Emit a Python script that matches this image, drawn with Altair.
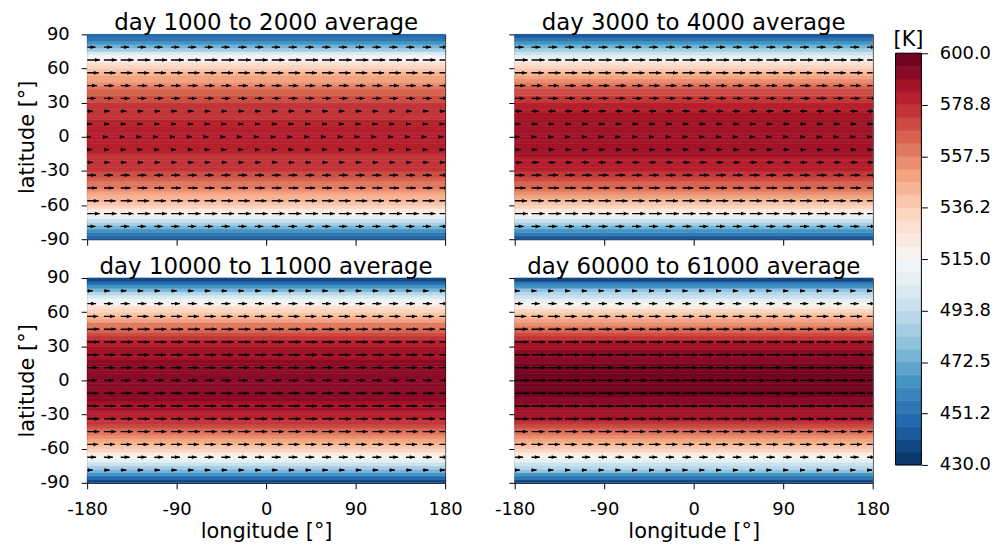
import numpy as np
import pandas as pd
import altair as alt

# ---------------------------------------------------------------- data
PANEL_TITLES = ["day 1000 to 2000 average", "day 3000 to 4000 average",
                "day 10000 to 11000 average", "day 60000 to 61000 average"]

# 3-degree latitude cells, edges from south to north
LAT_EDGES = list(range(-90, 91, 3))

# zonal temperature [K] per latitude cell, south -> north
T_DAY_1000 = [446, 455, 465, 476, 487, 498, 508, 517, 525, 531,
              537, 542, 546.5, 550.5, 554.5, 558.5, 562.5, 566, 569.5, 572,
              573.8, 575, 576, 577, 578, 578.9, 579.5, 580.2, 580.7, 581.0,
              581.2, 580.8, 580.3, 579.6, 578.9, 578, 577, 576, 575, 574,
              572.5, 570, 566.5, 563, 559, 555, 551, 547, 542, 537,
              532, 526, 518, 510, 500, 488, 476, 465, 455, 446]
T_DAY_3000 = [444, 453, 464, 476, 487, 498, 508, 517, 525, 532,
              538, 543.5, 549, 554, 558.5, 563, 567, 570.5, 573.8, 576.5,
              578.8, 580.8, 582.5, 583.9, 584.8, 585.6, 586.3, 586.9, 587.2, 587.4,
              587.5, 587.3, 587, 586.5, 585.8, 585, 584.2, 583, 581.5, 579.5,
              577.5, 575, 572, 568.5, 564.5, 560, 555.5, 550, 544.5, 539,
              533, 526, 518, 509, 499, 488, 477, 465, 454, 445]
T_DAY_10000 = [439, 450, 463, 476, 488, 499, 509, 518, 525.5, 532.5,
               539, 545, 551, 556.5, 561.5, 566.5, 571, 575, 578.5, 581.5,
               583.8, 585.6, 587.2, 588.6, 589.7, 590.5, 591.2, 591.8, 592.2, 592.4,
               592.5, 592.3, 592, 591.5, 590.8, 590, 589, 587.5, 586, 584.5,
               582.5, 579.5, 576, 572, 567.5, 562.5, 557.5, 552, 546, 540,
               533.5, 526.5, 519, 510, 500, 489, 477, 464, 451, 440]
T_DAY_60000 = [439.5, 451.5, 465.5, 478.5, 488.5, 497.5, 506.5, 515.5, 523.5, 531.2,
               538.2, 544.7, 550.7, 556.7, 562.2, 567.7, 572.7, 577.2, 581.2, 584.6,
               587.2, 589.2, 591, 592.6, 594, 595.1, 596.1, 596.8, 597.2, 597.4,
               597.5, 597.3, 597, 596.3, 595.3, 594.2, 592.8, 591.2, 589.4, 587.4,
               584.8, 581.5, 577.5, 573, 568, 562.5, 557, 551, 545, 538.5,
               531.5, 524, 516, 507, 498, 489, 479, 466, 452, 440]
T_PROFILES = [T_DAY_1000, T_DAY_3000, T_DAY_10000, T_DAY_60000]

# wind-vector grid
QUIVER_LATS = [-78.75, -67.5, -56.25, -45, -33.75, -22.5, -11.25, 0,
               11.25, 22.5, 33.75, 45, 56.25, 67.5, 78.75]
QUIVER_LONS = [-180, -163.125, -146.25, -129.375, -112.5, -95.625, -78.75,
               -61.875, -45, -28.125, -11.25, 5.625, 22.5, 39.375, 56.25,
               73.125, 90, 106.875, 123.75, 140.625, 157.5, 174.375]
# zonal wind [m/s] per quiver row, south -> north
U_DAY_1000 = [28, 43, 39, 33, 30, 19, 17, 13, 17, 19, 30, 33, 39, 43, 28]
U_DAY_3000 = [30, 44, 41, 36, 33, 24, 20, 17, 20, 24, 33, 36, 41, 44, 30]
U_DAY_10000 = [19, 30, 37, 41, 41, 39, 37, 33, 37, 39, 41, 41, 37, 30, 19]
U_DAY_60000 = [17, 28, 39, 44, 47, 50, 50, 50, 50, 50, 47, 44, 39, 28, 17]
U_PROFILES = [U_DAY_1000, U_DAY_3000, U_DAY_10000, U_DAY_60000]

X_TICKS = [-180, -90, 0, 90, 180]
Y_TICKS = [90, 60, 30, 0, -30, -60, -90]
CB_TICKS = [430, 451.25, 472.5, 493.75, 515, 536.25, 557.5, 578.75, 600]
CB_TICK_LABELS = ["430.0", "451.2", "472.5", "493.8", "515.0",
                  "536.2", "557.5", "578.8", "600.0"]
CB_UNIT = "[K]"

# ---------------------------------------------------------------- style
T_MIN, T_MAX, N_BANDS = 430.0, 600.0, 32
ARROW_DEG_PER_MS = 0.3
PANEL_W, PANEL_H = 360, 206
ROW_GAP = 6
COL_GAP = 70
CB_W, CB_H = 26, 414
CB_TOP_GAP, CB_BOTTOM_GAP = 19, 18      # px between panel frame and bar ends
CB_VIEW_H = CB_TOP_GAP + CB_H + CB_BOTTOM_GAP
FONT = "DejaVu Sans"
HEAD_PATH = "M0,0L-2,-0.75L-2,0.75Z"

RDBU_R = ["#053061", "#2166ac", "#4393c3", "#92c5de", "#d1e5f0", "#f7f7f7",
          "#fddbc7", "#f4a582", "#d6604d", "#b2182b", "#67001f"]


def _rgb(h):
    return [int(h[i:i + 2], 16) for i in (1, 3, 5)]


def cmap(t):
    pos = t * (len(RDBU_R) - 1)
    i = min(int(pos), len(RDBU_R) - 2)
    f = pos - i
    a, b = _rgb(RDBU_R[i]), _rgb(RDBU_R[i + 1])
    c = [round(a[k] + (b[k] - a[k]) * f) for k in range(3)]
    return "#%02x%02x%02x" % tuple(c)


LEVELS = np.linspace(T_MIN, T_MAX, N_BANDS + 1)
BAND_COLORS = [cmap((k + 0.5) / N_BANDS) for k in range(N_BANDS)]
cscale = alt.Scale(type="threshold", domain=[float(v) for v in LEVELS[1:-1]],
                   range=BAND_COLORS)

xscale = alt.Scale(domain=[-180, 180], nice=False, zero=False)
yscale = alt.Scale(domain=[-90, 90], nice=False, zero=False)


def panel(idx, show_x, show_y):
    fdf = pd.DataFrame({
        "lat_lo": LAT_EDGES[:-1], "lat_hi": LAT_EDGES[1:], "T": T_PROFILES[idx],
        "lon0": -180, "lon1": 180,
    })
    rows = []
    for lat, u in zip(QUIVER_LATS, U_PROFILES[idx]):
        for lon in QUIVER_LONS:
            rows.append({"lat": lat, "lon": lon, "tip": lon + u * ARROW_DEG_PER_MS})
    adf = pd.DataFrame(rows)
    tdf = pd.DataFrame({"title": [PANEL_TITLES[idx]]})

    xkw = dict(values=X_TICKS, labels=show_x, labelExpr="toString(datum.value)")
    ykw = dict(values=Y_TICKS, labels=show_y, labelExpr="toString(datum.value)")
    xaxis = alt.Axis(title="longitude [°]", **xkw) if show_x else alt.Axis(title=None, **xkw)
    yaxis = alt.Axis(title="latitude [°]", **ykw) if show_y else alt.Axis(title=None, **ykw)

    field = alt.Chart(fdf).mark_rect(strokeWidth=0.6).encode(
        x=alt.X("lon0:Q", scale=xscale, axis=xaxis),
        x2="lon1:Q",
        y=alt.Y("lat_lo:Q", scale=yscale, axis=yaxis),
        y2="lat_hi:Q",
        color=alt.Color("T:Q", scale=cscale, legend=None),
        stroke=alt.Stroke("T:Q", scale=cscale, legend=None),
    )
    shafts = alt.Chart(adf).mark_rule(color="black", strokeWidth=1.4, clip=True).encode(
        x=alt.X("lon:Q", scale=xscale, axis=xaxis),
        x2="tip:Q",
        y=alt.Y("lat:Q", scale=yscale, axis=yaxis),
    )
    heads = alt.Chart(adf).mark_point(shape=HEAD_PATH, filled=True, color="black",
                                      opacity=1, size=25, strokeWidth=0, clip=True).encode(
        x=alt.X("tip:Q", scale=xscale, axis=xaxis),
        y=alt.Y("lat:Q", scale=yscale, axis=yaxis),
    )
    title = alt.Chart(tdf).mark_text(fontSize=23, font=FONT, color="black",
                                     align="center", baseline="alphabetic", dy=-4).encode(
        x=alt.X(datum=0, scale=xscale, axis=xaxis),
        y=alt.Y(datum=90, scale=yscale, axis=yaxis),
        text="title:N",
    )
    return alt.layer(field, shafts, heads, title).properties(width=PANEL_W, height=PANEL_H)


p1 = panel(0, False, True)
p2 = panel(1, False, False)
p3 = panel(2, True, True)
p4 = panel(3, True, False)

grid = alt.vconcat(alt.hconcat(p1, p2, spacing=COL_GAP, bounds="flush"),
                   alt.hconcat(p3, p4, spacing=COL_GAP, bounds="flush"),
                   spacing=ROW_GAP)

# ---------------------------------------------------------------- colorbar
k_per_px = (T_MAX - T_MIN) / CB_H
cb_domain = [T_MIN - CB_BOTTOM_GAP * k_per_px, T_MAX + CB_TOP_GAP * k_per_px]
cb_y = alt.Scale(domain=cb_domain, nice=False, zero=False)
label_expr = "".join(f"datum.value == {v} ? '{s}' : "
                     for v, s in zip(CB_TICKS, CB_TICK_LABELS)) + "''"
cb_axis = alt.Axis(orient="right", values=CB_TICKS, labelExpr=label_expr, title=None)

cb_df = pd.DataFrame({"lo": LEVELS[:-1], "hi": LEVELS[1:],
                      "mid": (LEVELS[:-1] + LEVELS[1:]) / 2})
bands = alt.Chart(cb_df).mark_rect(strokeWidth=0.6).encode(
    x=alt.value(0), x2=alt.value(CB_W),
    y=alt.Y("lo:Q", scale=cb_y, axis=cb_axis),
    y2="hi:Q",
    color=alt.Color("mid:Q", scale=cscale, legend=None),
    stroke=alt.Stroke("mid:Q", scale=cscale, legend=None),
)
one = pd.DataFrame({"unit": [CB_UNIT]})
outline = alt.Chart(one).mark_rect(filled=False, color="black", strokeWidth=1).encode(
    x=alt.value(0), x2=alt.value(CB_W),
    y=alt.Y(datum=T_MIN, scale=cb_y, axis=cb_axis),
    y2=alt.Y2(datum=T_MAX),
)
unit = alt.Chart(one).mark_text(fontSize=21, font=FONT, color="black", align="center",
                                baseline="alphabetic", dy=-7).encode(
    y=alt.Y(datum=T_MAX, scale=cb_y, axis=cb_axis),
    text="unit:N",
)
cbar = alt.layer(bands, outline, unit).properties(
    width=CB_W, height=CB_VIEW_H, view=alt.ViewBackground(strokeOpacity=0))

chart = alt.hconcat(grid, cbar, spacing=2).properties(
    padding={"left": 7.6, "top": 2, "right": 0, "bottom": 0}
).configure_view(stroke="black", strokeWidth=1).configure_axis(
    labelFont=FONT, titleFont=FONT, labelFontSize=18, titleFontSize=21,
    titleFontWeight="normal", labelColor="black", titleColor="black",
    tickColor="black", tickSize=6, tickWidth=1, labelPadding=12,
    domain=False, grid=False, labelFlush=False, labelOverlap=False,
).configure_axisY(titlePadding=3).configure_axisX(titlePadding=2)

chart.save("out.html", embed_options={"renderer": "svg", "actions": False})
